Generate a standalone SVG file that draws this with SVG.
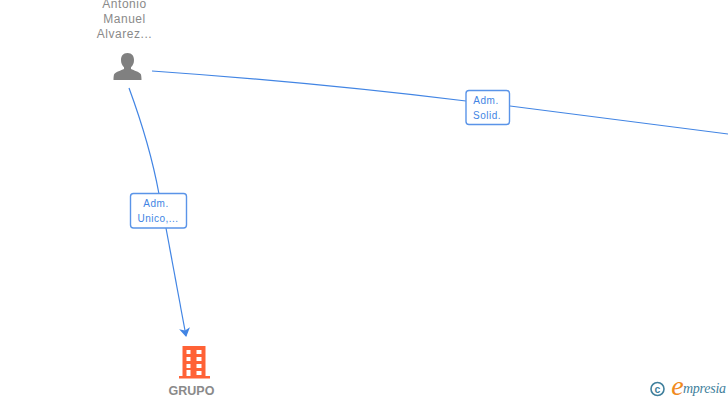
<svg xmlns="http://www.w3.org/2000/svg" width="728" height="400" viewBox="0 0 728 400">
<defs>
<style>
.edge{fill:none;stroke:#4285e4;stroke-width:1.2}
.box{fill:#fff;stroke:#5a94e8;stroke-width:1.4}
.elab{font:10px "Liberation Sans",Arial,sans-serif;fill:#4285e4;text-anchor:middle;letter-spacing:.5px}
.nlab{font:12px "Liberation Sans",Arial,sans-serif;fill:#8a8a8a;text-anchor:middle;letter-spacing:.55px}
</style>
<marker id="arr" markerWidth="12" markerHeight="12" refX="8" refY="5.500" orient="auto" markerUnits="userSpaceOnUse"><path d="M0 0L9 5.500L0 11L2.500 5.500Z" fill="#4285e4"/></marker>
</defs>
<rect width="728" height="400" fill="#fff"/>
<g id="connectors">
<path class="edge" d="M129 88Q150 145 159 194"/>
<path class="edge" d="M166 228L186 336" marker-end="url(#arr)"/>
<path class="edge" d="M152 71Q310 82 466 101"/>
<path class="edge" d="M510 106Q620 120 728 134"/>
</g>
<g id="label-adm-unico">
<rect class="box" x="130.500" y="193.500" width="56" height="34.500" rx="3"/>
<text class="elab" x="156" y="207">Adm.</text>
<text class="elab" x="158" y="222">Unico,...</text>
</g>
<g id="label-adm-solid">
<rect class="box" x="466" y="90.500" width="43.500" height="34" rx="3"/>
<text class="elab" x="486" y="104">Adm.</text>
<text class="elab" x="487" y="119">Solid.</text>
</g>
<g id="node-antonio">
<text class="nlab" x="124.500" y="8">Antonio</text>
<text class="nlab" x="124.500" y="23">Manuel</text>
<text class="nlab" x="124.500" y="38">Alvarez...</text>
<path fill="#808080" d="M127.500 53c-4.500 0-6.500 3.200-6.500 7 0 3 1 5.500 3 7.300v1.700c-3 1.600-8 2.600-9.700 5-.5.800-.8 3-.8 6h28c0-3-.3-5.200-.8-6-1.700-2.400-6.700-3.400-9.700-5v-1.700c2-1.800 3-4.300 3-7.300 0-3.800-2-7-6.500-7z"/>
</g>
<g id="node-grupo">
<path fill="#ff6236" fill-rule="evenodd" d="M182.500 346h23v30h-23zM186.500 350v4h4v-4zM196.500 350v4h5v-4zM186.500 357v4h4v-4zM196.500 357v4h5v-4zM186.500 364v4h4v-4zM196.500 364v4h5v-4zM186.500 370v6h4v-6zM196.500 371v4h5v-4z"/>
<rect x="179" y="376" width="31" height="2.500" fill="#ff6236"/>
<text x="191.500" y="395" font-family="Liberation Sans,Arial,sans-serif" font-size="12.500" font-weight="700" fill="#8a8a8a" text-anchor="middle">GRUPO</text>
</g>
<g id="logo">
<circle cx="657.500" cy="389" r="6.500" fill="none" stroke="#3f7f9c" stroke-width="1.600"/>
<text x="657.500" y="392.500" font-family="Liberation Sans,Arial,sans-serif" font-size="10.500" font-weight="700" fill="#3f7f9c" text-anchor="middle">c</text>
<text x="677.500" y="395" font-family="Liberation Serif,serif" font-size="28" font-style="italic" fill="#f08a1d" text-anchor="middle">e</text>
<text x="683" y="393" font-family="Liberation Serif,serif" font-size="14" font-style="italic" fill="#3f7f9c" textLength="43">mpresia</text>
</g>
</svg>
